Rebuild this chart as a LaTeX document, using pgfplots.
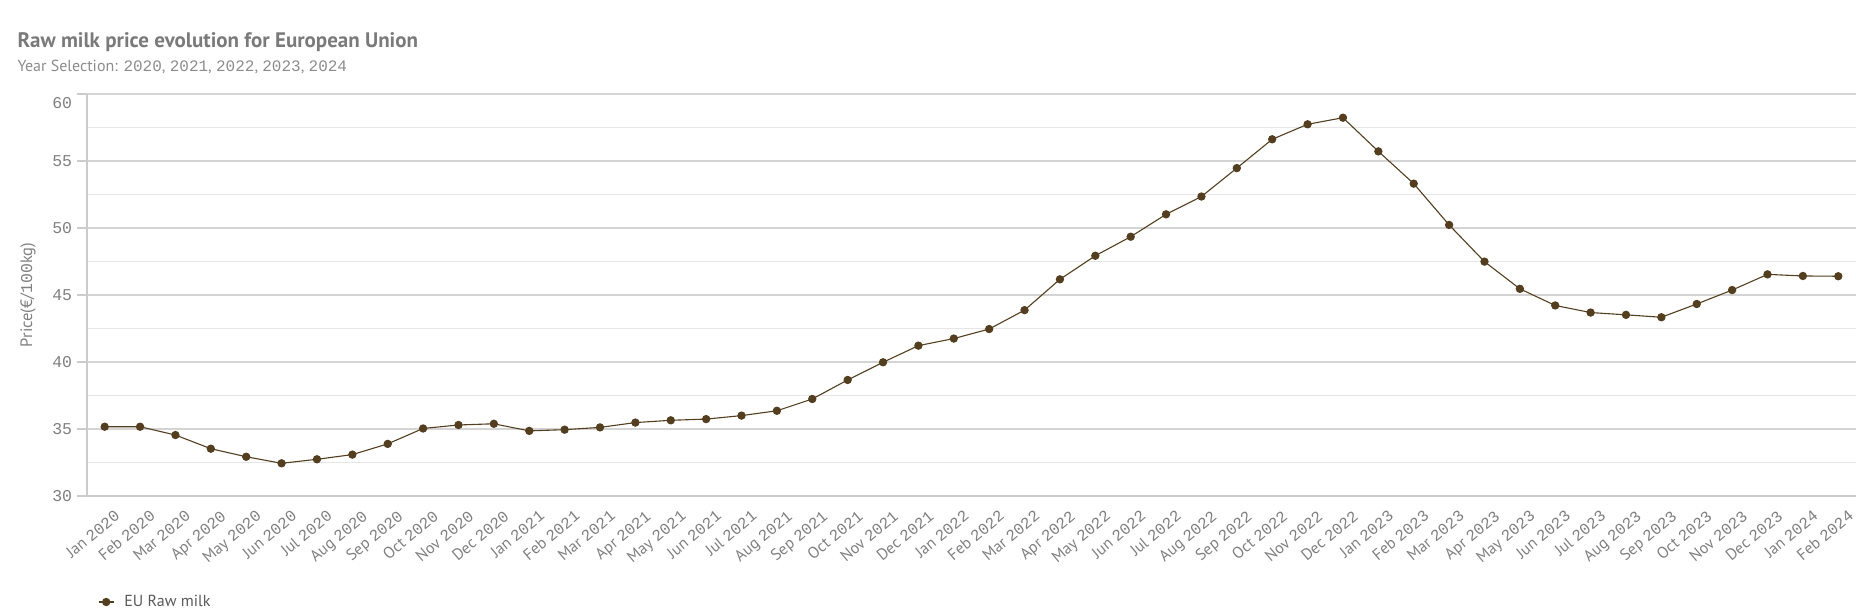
\documentclass[border=0pt]{standalone}
\usepackage{fontspec}
\setmainfont{PT Sans}
\newfontfamily\mono{Liberation Mono}
\usepackage{pgfplots}
\pgfplotsset{compat=1.18}
\definecolor{milk}{HTML}{543E20}
\definecolor{titlegray}{HTML}{7A7A7A}
\definecolor{subgray}{HTML}{8C8C8C}
\definecolor{tickgray}{HTML}{7F7F7F}
\definecolor{gridmaj}{HTML}{D4D4D4}
\definecolor{gridmin}{HTML}{E6E6E6}
\definecolor{axisgray}{HTML}{CCCCCC}
\definecolor{leggray}{HTML}{595959}
\begin{document}
\begin{tikzpicture}
\path[use as bounding box] (0pt,0pt) rectangle (1856pt,-613pt);
\node[anchor=base west, inner sep=0pt, text=titlegray] at (17.3pt,-47.3pt)
  {\fontsize{21}{21}\selectfont\bfseries Raw milk price evolution for European Union};
\node[anchor=base west, inner sep=0pt, text=subgray] at (17.3pt,-71pt)
  {\fontsize{16}{16}\selectfont Year Selection: {\mono 2020}, {\mono 2021}, {\mono 2022}, {\mono 2023}, {\mono 2024}};
\node[rotate=90, inner sep=0pt, text=tickgray] at (28pt,-295pt)
  {\fontsize{16.5}{16.5}\selectfont Price(€/{\mono 100}kg)};
\begin{axis}[
  at={(87pt,-496pt)}, anchor=south west,
  scale only axis, width=1769pt, height=402pt,
  xmin=-0.5, xmax=49.5, ymin=30, ymax=60,
  axis line style={draw=none},
  clip=false,
  ytick={30,35,40,45,50,55,60},
  yticklabels={30,35,40,45,50,55,\raisebox{-14.5pt}[0pt][0pt]{60}},
  minor ytick={32.5,37.5,...,57.5},
  ymajorgrids, yminorgrids,
  major grid style={draw=gridmaj, line width=1.6pt},
  minor grid style={draw=gridmin, line width=1.2pt},
  tick align=outside,
  ytick pos=left,
  major tick length=10pt,
  minor tick length=0pt,
  ytick style={draw=axisgray, line width=1.2pt},
  xtick style={draw=none},
  yticklabel style={font=\mono\fontsize{16.5}{16.5}\selectfont, text=tickgray, inner sep=0pt, xshift=-4.7pt},
  xtick={0,...,49},
  xticklabels={
    Jan {\mono 2020},Feb {\mono 2020},Mar {\mono 2020},Apr {\mono 2020},May {\mono 2020},Jun {\mono 2020},Jul {\mono 2020},Aug {\mono 2020},Sep {\mono 2020},Oct {\mono 2020},Nov {\mono 2020},Dec {\mono 2020},
    Jan {\mono 2021},Feb {\mono 2021},Mar {\mono 2021},Apr {\mono 2021},May {\mono 2021},Jun {\mono 2021},Jul {\mono 2021},Aug {\mono 2021},Sep {\mono 2021},Oct {\mono 2021},Nov {\mono 2021},Dec {\mono 2021},
    Jan {\mono 2022},Feb {\mono 2022},Mar {\mono 2022},Apr {\mono 2022},May {\mono 2022},Jun {\mono 2022},Jul {\mono 2022},Aug {\mono 2022},Sep {\mono 2022},Oct {\mono 2022},Nov {\mono 2022},Dec {\mono 2022},
    Jan {\mono 2023},Feb {\mono 2023},Mar {\mono 2023},Apr {\mono 2023},May {\mono 2023},Jun {\mono 2023},Jul {\mono 2023},Aug {\mono 2023},Sep {\mono 2023},Oct {\mono 2023},Nov {\mono 2023},Dec {\mono 2023},
    Jan {\mono 2024},Feb {\mono 2024}},
  xticklabel style={font=\fontsize{16}{16}\selectfont, text=tickgray, rotate=40, anchor=north east, inner sep=0pt, xshift=5pt, yshift=-8pt},
  legend style={at={(0.0062,-0.2637)}, anchor=west, draw=none, fill=none, inner sep=0pt,
    font=\fontsize{16}{16}\selectfont, text=leggray, nodes={inner sep=0pt}},
  legend cell align=left,
  legend image code/.code={\draw[mark repeat=2,mark phase=2] plot coordinates {(0pt,0pt) (7.5pt,0pt) (15pt,0pt)};},
]
\addplot[draw=milk, line width=1.1pt, mark=*, mark size=3.6pt, mark options={fill=milk, draw=milk}]
coordinates {
(0,35.17) (1,35.17) (2,34.55) (3,33.53) (4,32.93) (5,32.44)
(6,32.74) (7,33.09) (8,33.89) (9,35.04) (10,35.30) (11,35.39)
(12,34.86) (13,34.95) (14,35.12) (15,35.48) (16,35.65) (17,35.74)
(18,36.00) (19,36.36) (20,37.24) (21,38.66) (22,39.98) (23,41.22)
(24,41.75) (25,42.46) (26,43.87) (27,46.17) (28,47.93) (29,49.35)
(30,51.02) (31,52.35) (32,54.47) (33,56.62) (34,57.74) (35,58.23)
(36,55.72) (37,53.31) (38,50.23) (39,47.49) (40,45.46) (41,44.22)
(42,43.69) (43,43.52) (44,43.34) (45,44.33) (46,45.37) (47,46.54)
(48,46.42) (49,46.40)
};
\addlegendentry{\hspace{10pt}EU Raw milk}
\draw[axisgray, line width=1.2pt] (axis cs:-0.5,30) -- (axis cs:-0.5,60);
\draw[gridmaj!90!gray, line width=2.2pt] (axis cs:-0.5,30) -- (axis cs:49.5,30);
\end{axis}
\end{tikzpicture}
\end{document}
